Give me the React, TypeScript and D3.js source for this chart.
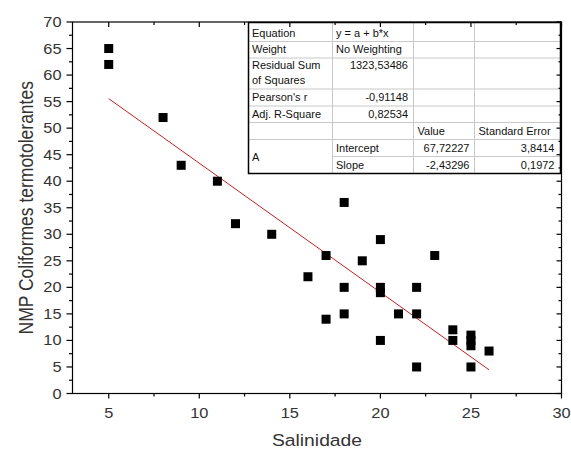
import React from "react";
import * as d3 from "d3";

const salinity = [5, 5, 8, 9, 11, 12, 14, 16, 17, 17, 18, 18, 18, 19, 20, 20, 20, 20, 21, 22, 22, 22, 23, 24, 24, 25, 25, 25, 25, 26];
const nmp = [65, 62, 52, 43, 40, 32, 30, 22, 26, 14, 36, 20, 15, 25, 29, 20, 19, 10, 15, 20, 15, 5, 26, 12, 10, 11, 10, 9, 5, 8];

const fitIntercept = 67.72227;
const fitSlope = -2.43296;

const xTicks = [5, 10, 15, 20, 25, 30];
const xMinor = [7.5, 12.5, 17.5, 22.5, 27.5];
const yTicks = [0, 5, 10, 15, 20, 25, 30, 35, 40, 45, 50, 55, 60, 65, 70];
const yMinor = [2.5, 7.5, 12.5, 17.5, 22.5, 27.5, 32.5, 37.5, 42.5, 47.5, 52.5, 57.5, 62.5, 67.5];

const tableLabels = ["Equation", "Weight", "Residual Sum|of Squares", "Pearson's r", "Adj. R-Square"];
const tableValues = ["y = a + b*x", "No Weighting", "1323,53486", "-0,91148", "0,82534"];
const paramHeaders = ["Value", "Standard Error"];
const paramNames = ["Intercept", "Slope"];
const paramValues = ["67,72227", "-2,43296"];
const paramErrors = ["3,8414", "0,1972"];

const FONT = "'Liberation Sans', Arial, sans-serif";
const SX = 1.17;

export default function App() {
  const W = 571, H = 450;
  const left = 72.5, right = 561.5, top = 22, bottom = 393.5;
  const x = d3.scaleLinear().domain([3, 30]).range([left, right]);
  const y = d3.scaleLinear().domain([0, 70]).range([bottom, top]);

  const xMin = d3.min(salinity) as number;
  const xMax = d3.max(salinity) as number;
  const fitLine = d3.line<number>().x((v) => x(v)).y((v) => y(fitIntercept + fitSlope * v));

  // table geometry
  const cols = [248.5, 332.5, 413.5, 474.5, 560.5];
  const rows = [22.5, 41.5, 58, 89, 106, 122.5, 139.5, 156.5, 173.5];
  const grid = "#c8c8c8";
  const tfs = 11;

  const tableText: React.ReactNode[] = [];
  tableLabels.forEach((lab, i) => {
    const parts = lab.split("|");
    if (parts.length === 1) {
      tableText.push(
        <text key={"l" + i} x={cols[0] + 3.5} y={rows[i + 1] - 5} fontSize={tfs}>{lab}</text>
      );
    } else {
      parts.forEach((p, j) =>
        tableText.push(
          <text key={"l" + i + "_" + j} x={cols[0] + 3.5} y={rows[i] + 10.5 + j * 15} fontSize={tfs}>{p}</text>
        )
      );
    }
    const v = tableValues[i];
    const rightAlign = i >= 2;
    const vy = i === 2 ? rows[i] + 10.5 : rows[i + 1] - 5;
    tableText.push(
      <text key={"v" + i} x={rightAlign ? cols[2] - 5.5 : cols[1] + 3.5} y={vy} fontSize={tfs} textAnchor={rightAlign ? "end" : "start"}>{v}</text>
    );
  });
  paramHeaders.forEach((h, i) => {
    tableText.push(
      <text key={"h" + i} x={cols[2 + i] + 4} y={rows[6] - 5} fontSize={tfs}>{h}</text>
    );
  });
  tableText.push(
    <text key="A" x={cols[0] + 3.5} y={(rows[6] + rows[8]) / 2 + 4} fontSize={tfs}>A</text>
  );
  paramNames.forEach((p, i) => {
    const by = rows[7 + i] - 5;
    tableText.push(<text key={"pn" + i} x={cols[1] + 3.5} y={by} fontSize={tfs}>{p}</text>);
    tableText.push(<text key={"pv" + i} x={cols[3] - 5} y={by} fontSize={tfs} textAnchor="end">{paramValues[i]}</text>);
    tableText.push(<text key={"pe" + i} x={cols[4] - 6} y={by} fontSize={tfs} textAnchor="end">{paramErrors[i]}</text>);
  });

  const ms = 9;

  return (
    <svg width={W} height={H} style={{ position: "absolute", left: 0, top: 0, background: "#fff" }} fontFamily={FONT}>
      <rect x={0} y={0} width={W} height={H} fill="#fff" />
      {/* fit line */}
      <path d={fitLine([xMin, xMax]) || ""} stroke="#c42020" strokeWidth={1} fill="none" />
      {/* points */}
      {salinity.map((s, i) => (
        <rect key={i} x={x(s) - ms / 2} y={y(nmp[i]) - ms / 2} width={ms} height={ms} fill="#000" />
      ))}
      {/* table */}
      <g>
        <rect x={cols[0]} y={rows[0]} width={cols[4] - cols[0]} height={rows[8] - rows[0]} fill="#fff" />
        {rows.slice(1, 8).map((r, i) => {
          const idx = i + 1;
          const x0 = idx === 7 ? cols[1] : cols[0];
          return <line key={"rl" + i} x1={x0} x2={cols[4]} y1={r} y2={r} stroke={grid} strokeWidth={1} />;
        })}
        {cols.slice(1, 4).map((c, i) => (
          <line key={"cl" + i} x1={c} x2={c} y1={rows[0]} y2={rows[8]} stroke={grid} strokeWidth={1} />
        ))}
        <rect x={cols[0]} y={rows[0]} width={cols[4] - cols[0]} height={rows[8] - rows[0]} fill="none" stroke="#000" strokeWidth={1.5} />
        <g fill="#111">{tableText}</g>
      </g>
      {/* frame */}
      <rect x={left} y={top} width={right - left} height={bottom - top} fill="none" stroke="#000" strokeWidth={1.2} />
      {/* bottom axis ticks (out) */}
      {xTicks.map((t) => (
        <line key={"xb" + t} x1={x(t)} x2={x(t)} y1={bottom} y2={bottom + 5} stroke="#000" strokeWidth={1.2} />
      ))}
      {xMinor.map((t) => (
        <line key={"xbm" + t} x1={x(t)} x2={x(t)} y1={bottom} y2={bottom + 3} stroke="#000" strokeWidth={1.2} />
      ))}
      {/* top axis ticks (in) */}
      {xTicks.map((t) => (
        <line key={"xt" + t} x1={x(t)} x2={x(t)} y1={top} y2={top + 5} stroke="#000" strokeWidth={1.2} />
      ))}
      {xMinor.map((t) => (
        <line key={"xtm" + t} x1={x(t)} x2={x(t)} y1={top} y2={top + 3} stroke="#000" strokeWidth={1.2} />
      ))}
      {/* left axis ticks (out) */}
      {yTicks.map((t) => (
        <line key={"yl" + t} x1={left - 6} x2={left} y1={y(t)} y2={y(t)} stroke="#000" strokeWidth={1.2} />
      ))}
      {yMinor.map((t) => (
        <line key={"ylm" + t} x1={left - 3.5} x2={left} y1={y(t)} y2={y(t)} stroke="#000" strokeWidth={1.2} />
      ))}
      {/* right axis ticks (in) */}
      {yTicks.map((t) => (
        <line key={"yr" + t} x1={right - 5} x2={right} y1={y(t)} y2={y(t)} stroke="#000" strokeWidth={1.2} />
      ))}
      {yMinor.map((t) => (
        <line key={"yrm" + t} x1={right - 3} x2={right} y1={y(t)} y2={y(t)} stroke="#000" strokeWidth={1.2} />
      ))}
      {/* tick labels */}
      {xTicks.map((t) => (
        <text key={"xl" + t} transform={`translate(${x(t)},${bottom + 24.5}) scale(${SX},1)`} textAnchor="middle" fontSize={14} fill="#333">{t}</text>
      ))}
      {yTicks.map((t) => (
        <text key={"ylb" + t} transform={`translate(${left - 11},${y(t) + 5}) scale(${SX},1)`} textAnchor="end" fontSize={14} fill="#333">{t}</text>
      ))}
      {/* axis titles */}
      <text transform={`translate(${(left + right) / 2},${446}) scale(${SX},1)`} textAnchor="middle" fontSize={16.5} fill="#333">Salinidade</text>
      <text transform={`translate(32.5,${(top + bottom) / 2}) scale(${SX},1) rotate(-90)`} textAnchor="middle" fontSize={17.5} fill="#333">NMP Coliformes termotolerantes</text>
    </svg>
  );
}
